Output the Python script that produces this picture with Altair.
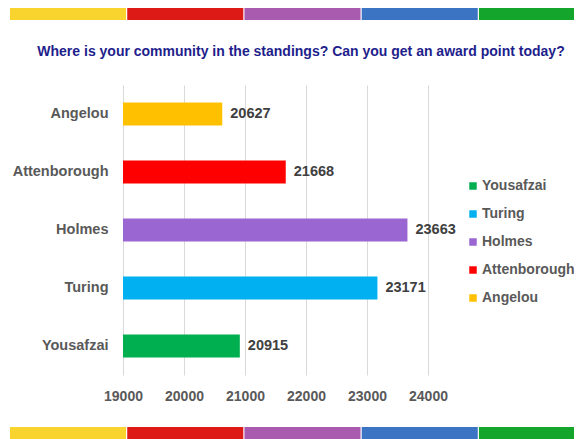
import altair as alt
import pandas as pd

communities = ["Angelou", "Attenborough", "Holmes", "Turing", "Yousafzai"]
points = [20627, 21668, 23663, 23171, 20915]
bar_colors = ["#FFC000", "#FF0000", "#9966D2", "#00B0F0", "#00B050"]
legend_order = ["Yousafzai", "Turing", "Holmes", "Attenborough", "Angelou"]
x_ticks = [19000, 20000, 21000, 22000, 23000, 24000]
band_colors = ["#F9D32E", "#DE1A16", "#A95BAF", "#3B74C2", "#13A52C"]
title_text = "Where is your community in the standings? Can you get an award point today?"

FONT = "Liberation Sans"
df = pd.DataFrame({"community": communities, "points": points})
bands = pd.DataFrame({"band": list(range(len(band_colors))), "color": band_colors})

x_scale = alt.Scale(domain=[19000, 24000], nice=False, zero=False)
x_enc = alt.X(
    "points:Q",
    scale=x_scale,
    axis=alt.Axis(
        values=x_ticks, title=None, format="d", domain=False, ticks=False,
        grid=True, gridColor="#D9D9D9", labelFont=FONT, labelFontSize=14,
        labelFontWeight="bold", labelColor="#595959", labelPadding=14,
        labelFlush=False,
    ),
)
y_enc = alt.Y(
    "community:N", sort=communities,
    scale=alt.Scale(paddingInner=0.6, paddingOuter=0.3),
    axis=alt.Axis(
        title=None, domain=False, ticks=False, labelFont=FONT, labelFontSize=14.5,
        labelFontWeight="bold", labelColor="#595959", labelPadding=15,
    ),
)

bars = alt.Chart(df).mark_bar().encode(
    x=x_enc,
    x2=alt.datum(19000),
    y=y_enc,
    color=alt.Color(
        "community:N",
        scale=alt.Scale(domain=communities, range=bar_colors),
        sort=legend_order,
        legend=alt.Legend(
            title=None, orient="none", legendX=343, legendY=94,
            symbolType="square", symbolSize=56, symbolStrokeWidth=0,
            labelOffset=2,
            labelFont=FONT, labelFontSize=14, labelFontWeight="bold",
            labelColor="#595959", rowPadding=14, values=legend_order,
        ),
    ),
)

labels = alt.Chart(df).mark_text(
    align="left", baseline="middle", dx=8, font=FONT, fontSize=14.5,
    fontWeight="bold", color="#404040",
).encode(
    x=alt.X("points:Q", scale=x_scale, axis=None),
    y=alt.Y("community:N", sort=communities),
    text="points:Q",
)

band_x = alt.X(
    "band:O", axis=None,
    scale=alt.Scale(range=[-113, 472], paddingInner=0.01, paddingOuter=0),
)
top_band = alt.Chart(bands).mark_rect().encode(
    x=band_x, y=alt.value(-78), y2=alt.value(-65),
    color=alt.Color("color:N", scale=None),
)
bottom_band = alt.Chart(bands).mark_rect().encode(
    x=band_x, y=alt.value(342), y2=alt.value(360),
    color=alt.Color("color:N", scale=None),
)

title = alt.Chart(pd.DataFrame({"t": [title_text]})).mark_text(
    align="center", baseline="middle", font=FONT, fontSize=14,
    fontWeight="bold", color="#1E1E8C",
).encode(text="t:N", x=alt.value(178), y=alt.value(-33))

chart = alt.layer(bars, labels, top_band, bottom_band, title).resolve_scale(
    x="independent"
).properties(
    width=305, height=290,
    autosize=alt.AutoSizeParams(type="none"),
    padding={"left": 115, "top": 77, "right": 146, "bottom": 64},
).configure_view(stroke=None)

chart.save("out.html", embed_options={"renderer": "svg", "actions": False})
